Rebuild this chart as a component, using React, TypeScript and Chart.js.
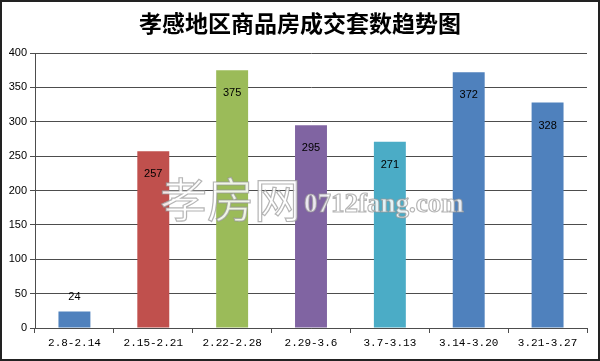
import React, { useEffect, useRef } from "react";
import { Chart, registerables } from "chart.js";

Chart.register(...registerables);

const title = "孝感地区商品房成交套数趋势图";
const categories = ["2.8-2.14", "2.15-2.21", "2.22-2.28", "2.29-3.6", "3.7-3.13", "3.14-3.20", "3.21-3.27"];
const values = [24, 257, 375, 295, 271, 372, 328];
const barColors = ["#4F81BD", "#C0504D", "#9BBB59", "#8064A2", "#4BACC6", "#4F81BD", "#4F81BD"];
const yMax = 400;
const yStep = 50;
const watermarkCn = "孝房网";
const watermarkEn = "0712fang.com";

const gridColor = "#4d4d4d";

const decorPlugin = {
  id: "decor",
  afterDraw(chart: any) {
    const ctx = chart.ctx;
    const meta = chart.getDatasetMeta(0);
    ctx.save();
    // value labels
    ctx.fillStyle = "#000";
    ctx.font = "11px 'Liberation Sans', Arial, sans-serif";
    ctx.textAlign = "center";
    ctx.textBaseline = "middle";
    meta.data.forEach((bar: any, i: number) => {
      const v = values[i];
      const y = v < 60 ? bar.y - 15 : bar.y + 23;
      ctx.fillText(String(v), bar.x, y);
    });
    // title
    ctx.font = "bold 23px 'Noto Sans CJK SC', sans-serif";
    ctx.fillStyle = "#000";
    ctx.fillText(title, chart.width / 2, 23);
    // watermark
    ctx.textAlign = "left";
    ctx.lineWidth = 1.2;
    ctx.strokeStyle = "rgba(150,150,150,0.7)";
    ctx.fillStyle = "rgba(255,255,255,0.85)";
    ctx.font = "47px 'Noto Sans CJK SC', sans-serif";
    ctx.fillText(watermarkCn, 160, 199);
    ctx.strokeText(watermarkCn, 160, 199);
    ctx.font = "bold 27px 'Liberation Serif', serif";
    ctx.fillText(watermarkEn, 304, 205);
    ctx.strokeText(watermarkEn, 304, 205);
    // border
    ctx.strokeStyle = "#222";
    ctx.lineWidth = 2;
    ctx.strokeRect(1, 1, chart.width - 2, chart.height - 2);
    ctx.restore();
  },
};

export default function App() {
  const ref = useRef<HTMLCanvasElement>(null);
  useEffect(() => {
    document.body.style.margin = "0";
    const chart = new Chart(ref.current!, {
      type: "bar",
      data: {
        labels: categories,
        datasets: [
          {
            data: values,
            backgroundColor: barColors,
            borderWidth: 0,
            barPercentage: 0.405,
            categoryPercentage: 1,
          },
        ],
      },
      options: {
        animation: false,
        responsive: false,
        devicePixelRatio: 1,
        layout: { padding: { top: 53, right: 13, bottom: 0, left: 0 } },
        plugins: {
          legend: { display: false },
          title: { display: false },
          tooltip: { enabled: false },
        },
        scales: {
          x: {
            grid: {
              drawOnChartArea: false,
              drawTicks: true,
              tickLength: 5,
              color: gridColor,
              offset: true,
            },
            border: { color: gridColor, width: 1 },
            ticks: {
              color: "#000",
              font: { family: "'Liberation Mono', monospace", size: 11 },
              padding: 3,
              maxRotation: 0,
            },
            afterFit(scale: any) {
              scale.height = 33;
            },
          },
          y: {
            min: 0,
            max: yMax,
            grid: { color: gridColor, tickLength: 5 },
            border: { color: gridColor, width: 1 },
            ticks: {
              stepSize: yStep,
              color: "#000",
              font: { family: "'Liberation Sans', Arial, sans-serif", size: 11 },
              padding: 3,
            },
            afterFit(scale: any) {
              scale.width = 35;
            },
          },
        },
      },
      plugins: [decorPlugin],
    } as any);
    return () => chart.destroy();
  }, []);
  return <canvas ref={ref} width={600} height={361} style={{ display: "block" }} />;
}
